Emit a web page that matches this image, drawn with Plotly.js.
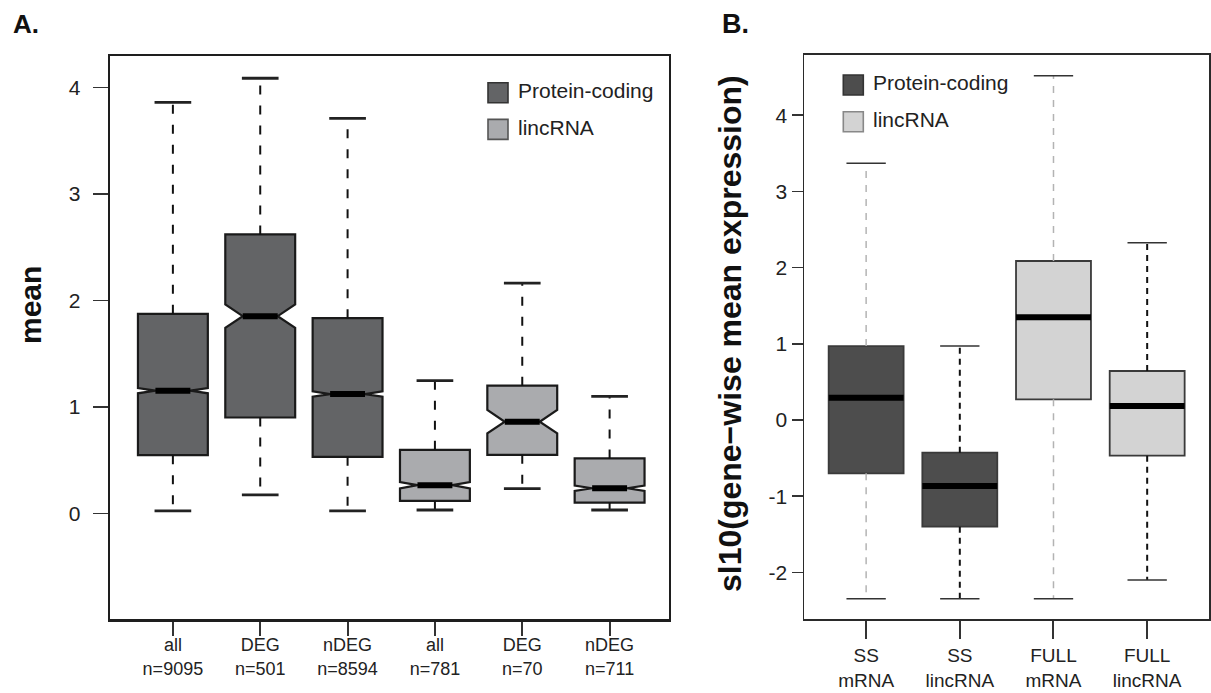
<!DOCTYPE html>
<html><head><meta charset="utf-8">
<script src="https://cdn.plot.ly/plotly-3.0.1.min.js"></script>
<style>html,body{margin:0;padding:0;background:#fff;} #chart{width:1211px;height:693px;}</style>
</head><body><div id="chart"></div>
<script>
// ---------- Panel A data ----------
const aPos = [1, 2, 3, 4, 5, 6];
const aCategories = ['all', 'DEG', 'nDEG', 'all', 'DEG', 'nDEG'];
const aCounts = ['n=9095', 'n=501', 'n=8594', 'n=781', 'n=70', 'n=711'];
const aGroups = ['Protein-coding', 'Protein-coding', 'Protein-coding', 'lincRNA', 'lincRNA', 'lincRNA'];
const aLower  = [0.022, 0.172, 0.022, 0.031, 0.232, 0.031];
const aQ1     = [0.546, 0.900, 0.530, 0.116, 0.549, 0.100];
const aMedian = [1.152, 1.852, 1.120, 0.264, 0.860, 0.235];
const aQ3     = [1.874, 2.620, 1.833, 0.596, 1.199, 0.515];
const aUpper  = [3.860, 4.087, 3.710, 1.246, 2.163, 1.099];
const aNotch  = [0.025, 0.110, 0.025, 0.030, 0.110, 0.025];
const aYTicks = [0, 1, 2, 3, 4];

// ---------- Panel B data ----------
const bPos = [1, 2, 3, 4];
const bMethod = ['SS', 'SS', 'FULL', 'FULL'];
const bType = ['mRNA', 'lincRNA', 'mRNA', 'lincRNA'];
const bLower  = [-2.345, -2.345, -2.345, -2.100];
const bQ1     = [-0.700, -1.400, 0.272, -0.468];
const bMedian = [0.293, -0.866, 1.348, 0.184];
const bQ3     = [0.971, -0.429, 2.087, 0.643];
const bUpper  = [3.370, 0.971, 4.518, 2.327];
const bYTicks = [-2, -1, 0, 1, 2, 3, 4];
const bYTickText = ['-2', '-1', '0', '1', '2', '3', '4'];

const legendNames = ['Protein-coding', 'lincRNA'];

// ---------- styles ----------
const W = 1211, H = 693;
const FONT = 'Liberation Sans, Arial, Helvetica, sans-serif';
const aFill = {'Protein-coding': '#636466', 'lincRNA': '#aaabae'};
const bFill = ['#4d4d4d', '#4d4d4d', '#d3d3d3', '#d3d3d3'];
const bWhiskerColor = ['#b3b3b3', '#111111', '#b3b3b3', '#111111'];
const bWhiskerDash = ['7px,7px', '6px,5px', '7px,7px', '6px,5px'];
const BOXW = 0.8, STAP = 0.21;

function px(x) { return x / W; }
function py(y) { return 1 - y / H; }
function idx(arr, pred) { return arr.map((v, i) => i).filter(i => pred(i)); }

const traces = [];

// Panel A boxes (one trace per group)
legendNames.forEach(g => {
  const ii = idx(aGroups, i => aGroups[i] === g);
  traces.push({
    type: 'box', xaxis: 'x', yaxis: 'y',
    x: ii.map(i => aPos[i]),
    q1: ii.map(i => aQ1[i]), median: ii.map(i => aMedian[i]), q3: ii.map(i => aQ3[i]),
    lowerfence: ii.map(i => aLower[i]), upperfence: ii.map(i => aUpper[i]),
    notched: true, notchspan: ii.map(i => aNotch[i]), notchwidth: 0.25,
    showwhiskers: false, width: BOXW, boxpoints: false,
    fillcolor: aFill[g], line: {color: '#1a1a1a', width: 2.2},
    showlegend: false, hoverinfo: 'skip'
  });
});

function whiskerTrace(xa, ya, pos, lo, q1, q3, hi, ii, color, width, dash) {
  const xs = [], ys = [];
  ii.forEach(i => {
    xs.push(pos[i], pos[i], null, pos[i], pos[i], null);
    ys.push(q3[i], hi[i], null, q1[i], lo[i], null);
  });
  return {type: 'scatter', mode: 'lines', xaxis: xa, yaxis: ya, x: xs, y: ys,
    line: {color: color, width: width, dash: dash}, showlegend: false, hoverinfo: 'skip'};
}
function stapleTrace(xa, ya, pos, lo, hi, ii, half, color, width) {
  const xs = [], ys = [];
  ii.forEach(i => {
    xs.push(pos[i] - half, pos[i] + half, null, pos[i] - half, pos[i] + half, null);
    ys.push(hi[i], hi[i], null, lo[i], lo[i], null);
  });
  return {type: 'scatter', mode: 'lines', xaxis: xa, yaxis: ya, x: xs, y: ys,
    line: {color: color, width: width}, showlegend: false, hoverinfo: 'skip'};
}
function medianTrace(xa, ya, pos, med, ii, half, width) {
  const xs = [], ys = [];
  ii.forEach(i => { xs.push(pos[i] - half, pos[i] + half, null); ys.push(med[i], med[i], null); });
  return {type: 'scatter', mode: 'lines', xaxis: xa, yaxis: ya, x: xs, y: ys,
    line: {color: '#000000', width: width}, showlegend: false, hoverinfo: 'skip'};
}

const aAll = aPos.map((v, i) => i);
traces.push(whiskerTrace('x', 'y', aPos, aLower, aQ1, aQ3, aUpper, aAll, '#111111', 2, '9px,11px'));
traces.push(stapleTrace('x', 'y', aPos, aLower, aUpper, aAll, STAP, '#222222', 2.8));
traces.push(medianTrace('x', 'y', aPos, aMedian, aAll, BOXW / 4, 6));

// Panel B boxes (one trace per box for individual colours)
bPos.forEach((p, i) => {
  traces.push({
    type: 'box', xaxis: 'x2', yaxis: 'y2',
    x: [p], q1: [bQ1[i]], median: [bMedian[i]], q3: [bQ3[i]],
    lowerfence: [bLower[i]], upperfence: [bUpper[i]],
    showwhiskers: false, width: BOXW, boxpoints: false,
    fillcolor: bFill[i], line: {color: '#3a3a3a', width: 1.8},
    showlegend: false, hoverinfo: 'skip'
  });
  traces.push(whiskerTrace('x2', 'y2', bPos, bLower, bQ1, bQ3, bUpper, [i], bWhiskerColor[i], i % 2 ? 2 : 1.5, bWhiskerDash[i]));
});
const bAll = bPos.map((v, i) => i);
traces.push(stapleTrace('x2', 'y2', bPos, bLower, bUpper, bAll, STAP, '#333333', 1.6));
traces.push(medianTrace('x2', 'y2', bPos, bMedian, bAll, BOXW / 2, 6));

// ---------- layout ----------
const axisFrameA = {showline: true, mirror: true, linecolor: '#1e1e1e', linewidth: 2.4, zeroline: false, showgrid: false};
const axisFrameB = {showline: true, mirror: true, linecolor: '#2a2a2a', linewidth: 1.8, zeroline: false, showgrid: false};

const shapes = [], annotations = [];
function legendBlock(x0, y0, fills, borders) {
  legendNames.forEach((n, k) => {
    const top = y0 + k * 36.7;
    shapes.push({type: 'rect', xref: 'paper', yref: 'paper', x0: px(x0), x1: px(x0 + 20), y0: py(top), y1: py(top + 20),
      fillcolor: fills[k], line: {color: borders[k], width: 1.6}});
    annotations.push({xref: 'paper', yref: 'paper', x: px(x0 + 28), y: py(top + 8), xanchor: 'left', yanchor: 'middle',
      text: n, showarrow: false, font: {family: FONT, size: 21, color: '#222'}});
  });
}
legendBlock(488, 82.7, [aFill['Protein-coding'], aFill['lincRNA']], ['#333', '#555']);
legendBlock(843.3, 75, ['#4d4d4d', '#d3d3d3'], ['#333', '#888']);

annotations.push({xref: 'paper', yref: 'paper', x: px(11), y: py(24), xanchor: 'left', yanchor: 'middle',
  text: '<b>A.</b>', showarrow: false, font: {family: FONT, size: 26, color: '#111'}});
annotations.push({xref: 'paper', yref: 'paper', x: px(720), y: py(24), xanchor: 'left', yanchor: 'middle',
  text: '<b>B.</b>', showarrow: false, font: {family: FONT, size: 27, color: '#111'}});
annotations.push({xref: 'paper', yref: 'paper', x: px(30), y: py(305), xanchor: 'center', yanchor: 'middle', textangle: -90,
  text: '<b>mean</b>', showarrow: false, font: {family: FONT, size: 30, color: '#111'}});
annotations.push({xref: 'paper', yref: 'paper', x: px(730), y: py(334), xanchor: 'center', yanchor: 'middle', textangle: -90,
  text: '<b>sl10(gene\u2212wise mean expression)</b>', showarrow: false, font: {family: FONT, size: 32, color: '#111'}});

const layout = {
  width: W, height: H, margin: {l: 0, r: 0, t: 0, b: 0},
  paper_bgcolor: '#fff', plot_bgcolor: '#fff', showlegend: false,
  font: {family: FONT, color: '#222'},
  xaxis: Object.assign({}, axisFrameA, {domain: [px(110), px(669)], range: [0.28, 6.68],
    tickmode: 'array', tickvals: aPos, ticktext: aPos.map((p, i) => aCategories[i] + '<br>' + aCounts[i]),
    ticks: 'outside', ticklen: 14, tickwidth: 2, tickcolor: '#333', ticklabelstandoff: -6,
    tickfont: {size: 18, family: FONT, color: '#222'}}),
  yaxis: Object.assign({}, axisFrameA, {domain: [py(619.3), py(56)], range: [-0.996, 4.296],
    tickmode: 'array', tickvals: aYTicks, ticktext: aYTicks.map(String),
    ticks: 'outside', ticklen: 15, tickwidth: 1.5, tickcolor: '#333', ticklabelstandoff: 8,
    tickfont: {size: 21, family: FONT, color: '#222'}}),
  xaxis2: Object.assign({}, axisFrameB, {anchor: 'y2', domain: [px(804.3), px(1209)], range: [0.34, 4.66],
    tickmode: 'array', tickvals: bPos, ticktext: bPos.map((p, i) => bMethod[i] + '<br>' + bType[i]),
    ticks: 'outside', ticklen: 18, tickwidth: 2, tickcolor: '#333',
    tickfont: {size: 19, family: FONT, color: '#222'}}),
  yaxis2: Object.assign({}, axisFrameB, {anchor: 'x2', domain: [py(619.3), py(55)], range: [-2.615, 4.79],
    tickmode: 'array', tickvals: bYTicks, ticktext: bYTickText,
    ticks: 'outside', ticklen: 11, tickwidth: 1.5, tickcolor: '#333', tickfont: {size: 21, family: FONT, color: '#222'}}),
  shapes: shapes, annotations: annotations
};

Plotly.newPlot('chart', traces, layout, {staticPlot: true, displayModeBar: false});
</script></body></html>
